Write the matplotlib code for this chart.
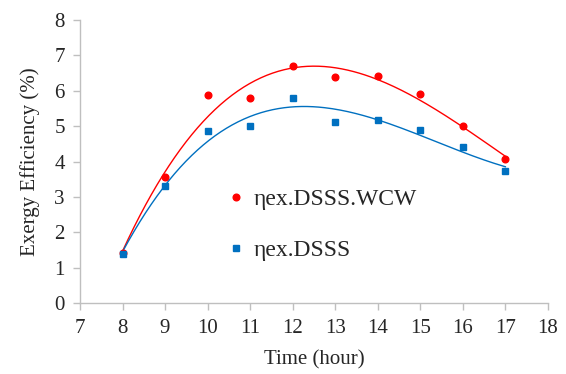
import matplotlib
matplotlib.use("Agg")
import matplotlib.pyplot as plt
import numpy as np

hours = [8, 9, 10, 11, 12, 13, 14, 15, 16, 17]
eff_wcw = [1.41, 3.58, 5.88, 5.79, 6.70, 6.38, 6.41, 5.91, 5.01, 4.07]
eff_dsss = [1.40, 3.30, 4.87, 5.02, 5.79, 5.12, 5.18, 4.88, 4.41, 3.74]

label_wcw = "ηex.DSSS.WCW"
label_dsss = "ηex.DSSS"

plt.rcParams["font.family"] = ["Liberation Serif", "DejaVu Serif"]

red = "#ff0000"
blue = "#0070c0"
grey = "#bfbfbf"

fig = plt.figure(figsize=(5.66, 3.74), dpi=100)
ax = fig.add_axes([0.1413, 0.189, 0.8267, 0.7575])

x = np.array(hours, dtype=float)
xs = np.linspace(x.min(), x.max(), 200)
for values, color, marker, label in [
    (eff_wcw, red, "o", label_wcw),
    (eff_dsss, blue, "s", label_dsss),
]:
    # third-order trendline, like the spreadsheet one
    coef = np.polyfit(x, values, 3)
    ax.plot(xs, np.polyval(coef, xs), color=color, lw=1.0, zorder=2)
    ax.plot(x, values, linestyle="none", marker=marker, color=color,
            markersize=4.8 if marker == "o" else 4.6, label=label, zorder=3)

ax.set_xlim(7, 18)
ax.set_ylim(0, 8)
ax.set_xticks(range(7, 19))
ax.set_yticks(range(0, 9))
for side in ["top", "right"]:
    ax.spines[side].set_visible(False)
for side in ["left", "bottom"]:
    ax.spines[side].set_color(grey)
    ax.spines[side].set_linewidth(1.0)
ax.tick_params(axis="both", direction="out", length=5, width=1.0,
               color=grey, labelsize=15, labelcolor="#262626", pad=6)

ax.set_xlabel("Time (hour)", fontsize=15, color="#262626", labelpad=9)
ax.set_ylabel("Exergy Efficiency (%)", fontsize=15, color="#262626", labelpad=10)

ax.legend(loc="center left", bbox_to_anchor=(0.272, 0.278), frameon=False,
          fontsize=17, handlelength=0.6, handletextpad=0.45,
          labelspacing=1.25, labelcolor="#262626", markerscale=1.0)

fig.savefig("out.png", dpi=100)
